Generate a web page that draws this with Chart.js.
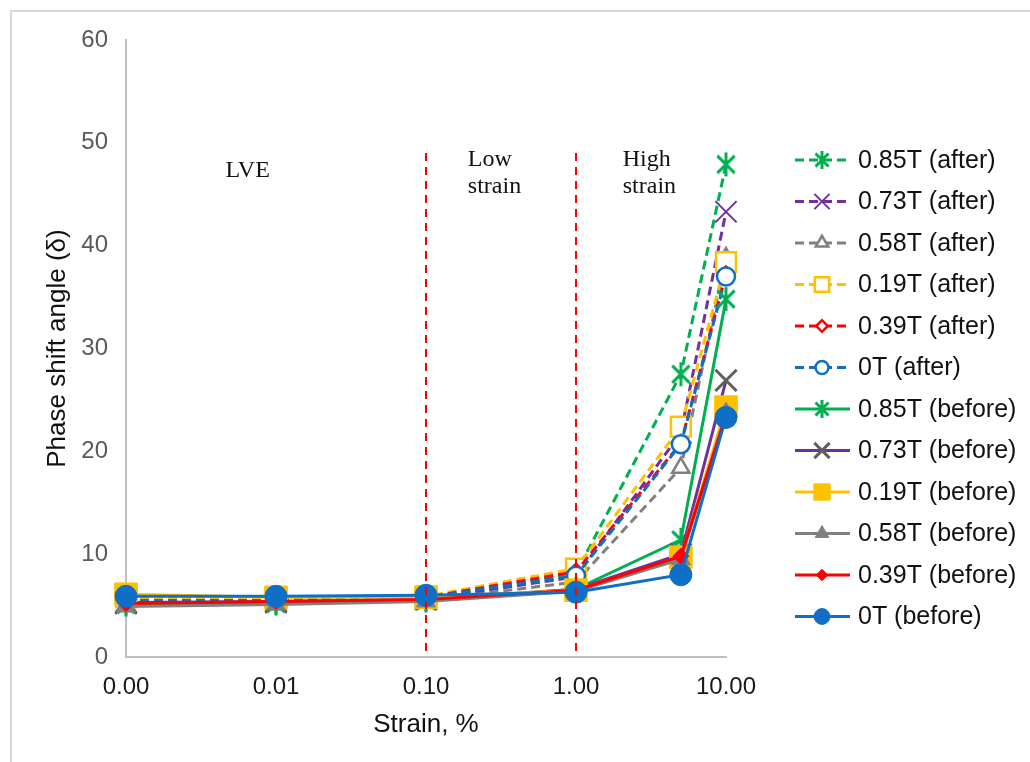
<!DOCTYPE html>
<html>
<head>
<meta charset="utf-8">
<script src="https://cdn.jsdelivr.net/npm/chart.js@4.4.0/dist/chart.umd.min.js"></script>
<style>
  html, body { margin: 0; padding: 0; background: #fff; }
</style>
</head>
<body>
<canvas id="myChart" width="1030" height="762"></canvas>
<script>
// strain values (%) at which the sweep was measured
const strain = [0.001, 0.01, 0.1, 1, 5, 10]
const xTicks = [0.001, 0.01, 0.1, 1, 10]
const yTicks = [0, 10, 20, 30, 40, 50, 60]

// phase shift angle, after
const after085 = [5.3, 5.4, 5.6, 8.2, 27.5, 47.9]
const after073 = [5.2, 5.3, 5.6, 7.8, 21.8, 43.3]
const after058 = [5.0, 5.2, 5.5, 7.3, 18.4, 38.8]
const after019 = [5.8, 5.6, 5.9, 8.6, 22.4, 38.4]
const after039 = [5.4, 5.4, 5.8, 8.3, 20.8, 37.2]
const after0   = [5.5, 5.5, 5.8, 7.9, 20.7, 37.0]

// phase shift angle, before
const before085 = [5.1, 5.2, 5.5, 6.6, 11.4, 34.8]
const before073 = [5.3, 5.4, 5.6, 6.6, 10.0, 26.9]
const before019 = [6.1, 5.8, 5.8, 6.5, 9.7, 24.3]
const before058 = [4.9, 5.1, 5.4, 6.4, 9.5, 23.7]
const before039 = [5.2, 5.4, 5.6, 6.5, 9.8, 23.5]
const before0   = [5.9, 5.9, 6.0, 6.3, 8.0, 23.3]

const zoneBounds = [0.1, 1]
const zoneNames = [['LVE'], ['Low', 'strain'], ['High', 'strain']]

const green = '#00B050', purple = '#7030A0', gray = '#808080', darkGray = '#5F5F5F'
const yellow = '#FFC000', red = '#FF0000', blue = '#0F6FC6'

function asterisk(color, size, lw) {
    let c = document.createElement('canvas')
    c.width = size; c.height = size
    let g = c.getContext('2d')
    let m = size / 2, r = size / 2 - 1
    let d = r * 0.72
    g.strokeStyle = color; g.lineWidth = lw
    g.beginPath()
    g.moveTo(m, m - r); g.lineTo(m, m + r)
    g.moveTo(m - d, m - d); g.lineTo(m + d, m + d)
    g.moveTo(m + d, m - d); g.lineTo(m - d, m + d)
    g.stroke()
    return c
}

const toPts = vals => vals.map((v, i) => ({x: strain[i], y: v}))

function series(label, vals, line, dashed, style, radius, fill, border, bw, legendStyle) {
    return {
        label: label,
        data: toPts(vals),
        borderColor: line,
        borderWidth: 3,
        borderDash: dashed ? [9, 5] : [],
        pointStyle: style,
        pointRadius: radius,
        pointBackgroundColor: fill,
        pointBorderColor: border,
        pointBorderWidth: bw,
        legendStyle: legendStyle,
        tension: 0,
        clip: false
    }
}

const datasets = [
    series('0.85T (after)', after085, green, true, asterisk(green, 26, 3), 12, green, green, 0, asterisk(green, 20, 3)),
    series('0.73T (after)', after073, purple, true, 'crossRot', 15, purple, purple, 2),
    series('0.58T (after)', after058, gray, true, 'triangle', 10, '#fff', gray, 2.5),
    series('0.19T (after)', after019, yellow, true, 'rect', 14, '#fff', yellow, 2.5),
    series('0.39T (after)', after039, red, true, 'rectRot', 8, '#fff', red, 2.5),
    series('0T (after)', after0, blue, true, 'circle', 9, '#fff', blue, 2.5),
    series('0.85T (before)', before085, green, false, asterisk(green, 26, 3), 12, green, green, 0, asterisk(green, 20, 3)),
    series('0.73T (before)', before073, purple, false, 'crossRot', 15, darkGray, darkGray, 3),
    series('0.19T (before)', before019, yellow, false, 'rect', 16, yellow, yellow, 1),
    series('0.58T (before)', before058, gray, false, 'triangle', 11, gray, gray, 1),
    series('0.39T (before)', before039, red, false, 'rectRot', 8, red, red, 1),
    series('0T (before)', before0, blue, false, 'circle', 11, blue, blue, 1)
]
datasets.forEach((ds, i) => ds.order = datasets.length - 1 - i)

const frame = {
    id: 'frame',
    beforeDraw(chart) {
        let ctx = chart.ctx
        ctx.save()
        ctx.fillStyle = '#fff'
        ctx.fillRect(0, 0, chart.width, chart.height)
        ctx.strokeStyle = '#d9d9d9'
        ctx.lineWidth = 2
        ctx.beginPath()
        ctx.moveTo(11, chart.height); ctx.lineTo(11, 11); ctx.lineTo(chart.width, 11)
        ctx.stroke()
        ctx.restore()
    }
}

const zones = {
    id: 'zones',
    afterDatasetsDraw(chart) {
        let ctx = chart.ctx
        let x = chart.scales.x, y = chart.scales.y
        ctx.save()
        ctx.strokeStyle = red
        ctx.lineWidth = 2
        ctx.setLineDash([8, 6])
        zoneBounds.forEach(v => {
            let px = x.getPixelForValue(v)
            ctx.beginPath()
            ctx.moveTo(px, y.getPixelForValue(49))
            ctx.lineTo(px, y.getPixelForValue(0))
            ctx.stroke()
        })
        ctx.setLineDash([])
        ctx.fillStyle = '#111'
        ctx.font = '24px "Liberation Serif", "Times New Roman", serif'
        ctx.textBaseline = 'alphabetic'
        let spots = [[0.0046, 46.7], [0.19, 47.7], [2.05, 47.7]]
        zoneNames.forEach((lines, k) => {
            let px = x.getPixelForValue(spots[k][0])
            let py = y.getPixelForValue(spots[k][1])
            lines.forEach((t, j) => ctx.fillText(t, px, py + j * 27))
        })
        ctx.restore()
    }
}

const sideLegend = {
    id: 'sideLegend',
    afterDraw(chart) {
        let ctx = chart.ctx
        chart.data.datasets.forEach((ds, i) => {
            let y = 160 + i * 41.5
            ctx.save()
            ctx.strokeStyle = ds.borderColor
            ctx.lineWidth = 3
            ctx.setLineDash(ds.borderDash)
            ctx.beginPath(); ctx.moveTo(795, y); ctx.lineTo(850, y); ctx.stroke()
            ctx.setLineDash([])
            ctx.fillStyle = ds.pointBackgroundColor
            ctx.strokeStyle = ds.pointBorderColor
            ctx.lineWidth = ds.pointBorderWidth
            Chart.helpers.drawPoint(ctx, {
                pointStyle: ds.legendStyle || ds.pointStyle,
                radius: ds.pointRadius * 0.72,
                rotation: 0,
                borderWidth: ds.pointBorderWidth
            }, 822, y)
            ctx.fillStyle = '#111'
            ctx.font = '25px "Liberation Sans", Arial, sans-serif'
            ctx.textBaseline = 'middle'
            ctx.fillText(ds.label, 858, y + 1)
            ctx.restore()
        })
    }
}

const config = {
    type: 'line',
    data: { datasets: datasets },
    options: {
        responsive: false,
        animation: false,
        events: [],
        layout: { padding: { top: 40, right: 304, bottom: 0, left: 0 } },
        plugins: { legend: { display: false }, tooltip: { enabled: false } },
        scales: {
            x: {
                type: 'logarithmic',
                min: 0.001,
                max: 10,
                afterBuildTicks: s => { s.ticks = xTicks.map(v => ({value: v})) },
                afterFit: s => { s.height = 105 },
                grid: { display: false, drawTicks: false },
                border: { display: true, color: '#BFBFBF', width: 2 },
                ticks: {
                    autoSkip: false,
                    maxRotation: 0,
                    padding: 16,
                    color: '#1a1a1a',
                    font: { family: '"Liberation Sans", Arial', size: 24 },
                    callback: v => Number(v).toFixed(2)
                },
                title: {
                    display: true,
                    text: 'Strain, %',
                    color: '#111',
                    font: { family: '"Liberation Sans", Arial', size: 26 },
                    padding: { top: 0, bottom: 22 }
                }
            },
            y: {
                min: 0,
                max: 60,
                afterBuildTicks: s => { s.ticks = yTicks.map(v => ({value: v})) },
                afterFit: s => { s.width = 126 },
                grid: { display: false, drawTicks: false },
                border: { display: true, color: '#BFBFBF', width: 2 },
                ticks: {
                    padding: 18,
                    color: '#595959',
                    font: { family: '"Liberation Sans", Arial', size: 24 }
                },
                title: {
                    display: true,
                    text: 'Phase shift angle (δ)',
                    color: '#111',
                    font: { family: '"Liberation Sans", Arial', size: 26 },
                    padding: { top: 42, bottom: 0 }
                }
            }
        }
    },
    plugins: [frame, zones, sideLegend]
}

const myChart = new Chart(document.getElementById('myChart'), config)
</script>
</body>
</html>
